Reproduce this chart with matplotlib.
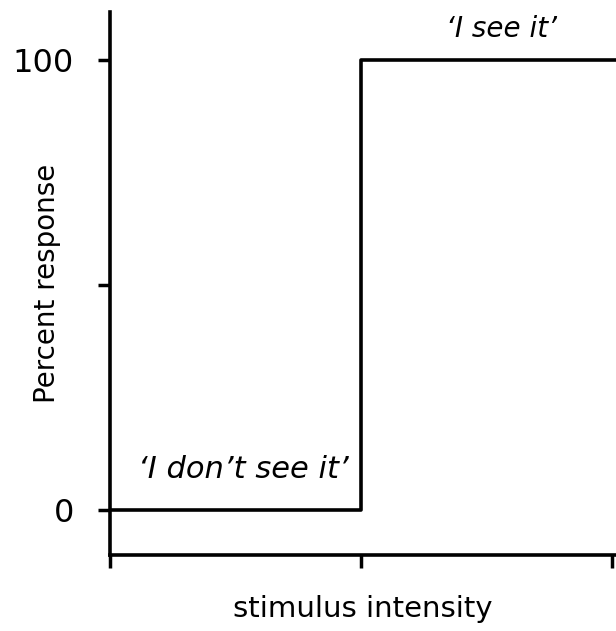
import matplotlib
matplotlib.use("Agg")
import matplotlib.pyplot as plt

plt.rcParams['font.family'] = ['DejaVu Sans']

# step response: 0% below threshold, 100% above
step_x = [0, 1, 1, 2.02]
step_y = [0, 0, 100, 100]
y_ticks = [0, 50, 100]
y_tick_labels = ['0', '', '100']
x_ticks = [0, 1, 2]

fig = plt.figure(figsize=(6.16, 6.31), dpi=100)
ax = fig.add_axes([0.1786, 0.1204, 0.8214, 0.8606])

ax.plot(step_x, step_y, color='black', lw=2.6, solid_joinstyle='round')

ax.set_xlim(0, 2.016)
ax.set_ylim(-10, 110.7)
ax.set_xticks(x_ticks)
ax.set_xticklabels([])
ax.set_yticks(y_ticks)
ax.set_yticklabels(y_tick_labels, fontsize=23)
ax.tick_params(axis='both', length=9, width=2.5, color='black')
ax.tick_params(axis='y', pad=17)

for s in ['top', 'right']:
    ax.spines[s].set_visible(False)
for s in ['left', 'bottom']:
    ax.spines[s].set_linewidth(2.6)

ax.set_xlabel('stimulus intensity', fontsize=21)
ax.xaxis.set_label_coords(0.5, -0.074)
ax.set_ylabel('Percent response', fontsize=20)
ax.yaxis.set_label_coords(-0.096, 0.5)

ax.text(1.56, 107, '‘I see it’', fontsize=20, style='italic', ha='center', va='center')
ax.text(0.53, 9, '‘I don’t see it’', fontsize=22, style='italic', ha='center', va='center')

fig.savefig('out.png', dpi=100)
